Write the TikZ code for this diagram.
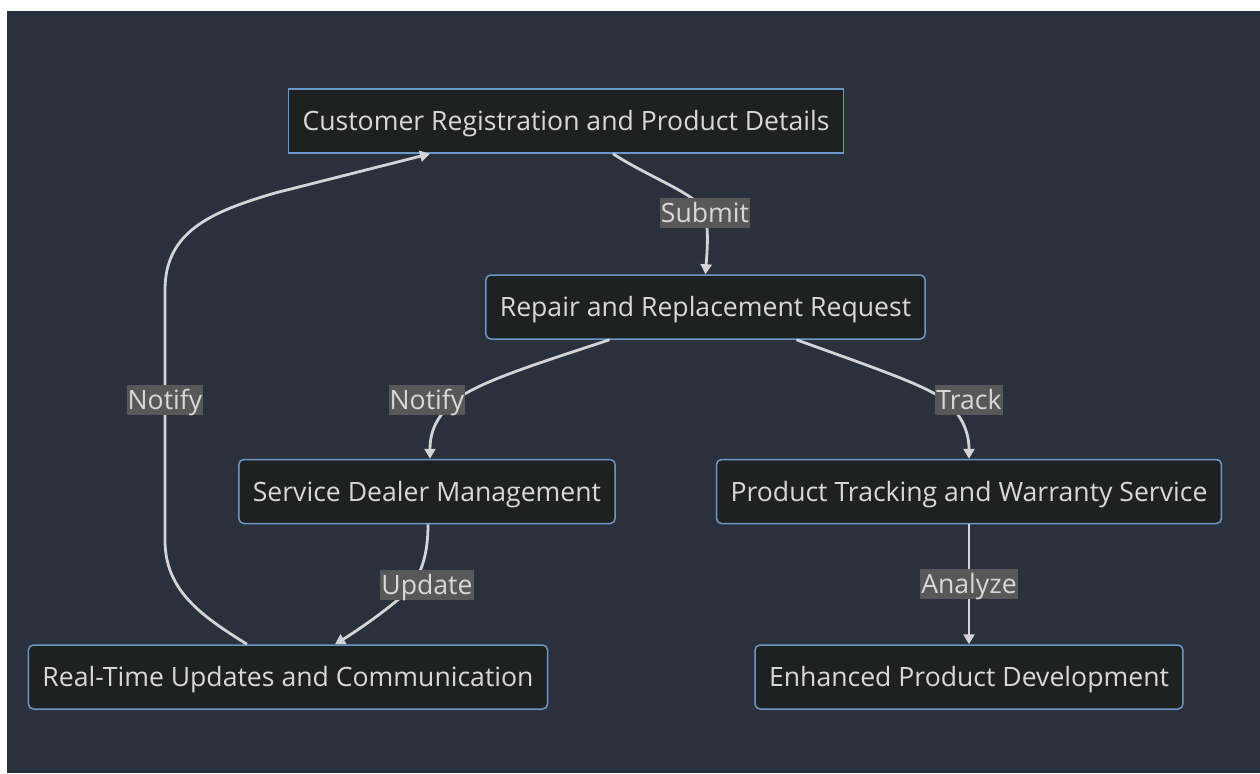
\documentclass[tikz,border=0pt]{standalone}
\usepackage{fontspec}
\setmainfont{Open Sans}
\usetikzlibrary{arrows.meta,calc}

\definecolor{canvas}{HTML}{2A303C}
\definecolor{boxfill}{HTML}{1F2020}
\definecolor{boxline}{HTML}{6A98C8}
\definecolor{wire}{HTML}{D4D4D4}
\definecolor{tagfill}{HTML}{585858}
\definecolor{ink}{HTML}{D8D8D8}

\begin{document}
\begin{tikzpicture}[
  x=0.5pt, y=-0.5pt,
  every node/.style={font=\fontsize{13.3}{16}\selectfont, text=ink, text height=10pt, text depth=0.5pt},
  stage/.style={draw=boxline, line width=0.75pt, fill=boxfill, rounded corners=2.5pt, minimum height=32pt, inner xsep=7pt},
  firststage/.style={stage, sharp corners},
  edge/.style={draw=wire, line width=1.4pt, -{Triangle[length=5pt,width=5.5pt]}},
  tag/.style={fill=tagfill, inner xsep=0.5pt, inner ysep=2.25pt},
]
% canvas
\useasboundingbox (0,0) rectangle (1260,773);
\fill[white] (0,0) rectangle (1260,773);
\fill[canvas] (7,11) rectangle (1260,773);

% stages
\node[firststage] (reg) at (566,121) {Customer Registration and Product Details};
\node[stage] (req) at (705.5,307) {Repair and Replacement Request};
\node[stage] (dealer) at (427,491.5) {Service Dealer Management};
\node[stage] (track) at (969,491.5) {Product Tracking and Warranty Service};
\node[stage] (comm) at (288,677) {Real-Time Updates and Communication};
\node[stage] (dev) at (969,677) {Enhanced Product Development};

% flows
\draw[edge] ($(reg.south)+(47,0)$) .. controls (650,178) and (700,195) .. (705,213) node[tag]{Submit}
  .. controls (709,232) and (707,252) .. (req.north);
\draw[edge] ($(req.south)+(-96,0)$) .. controls (530,366) and (475,383) .. (452,403)
  .. controls (436,418) and (430,432) .. ($(dealer.north)+(3,0)$)
  node[tag] at (427,400) {Notify};
\draw[edge] ($(req.south)+(91,0)$) .. controls (880,370) and (925,385) .. (946,401)
  .. controls (962,416) and (969,432) .. (track.north)
  node[tag] at (969,400) {Track};
\draw[edge] ($(dealer.south)+(1,0)$) .. controls (428,562) and (418,582) .. (400,598)
  .. controls (380,615) and (355,632) .. ($(comm.north)+(47,0)$)
  node[tag] at (427,585) {Update};
\draw[edge] (track.south) -- node[tag]{Analyze} (dev.north);
\draw[edge] ($(comm.north)+(-41,0)$) .. controls (200,615) and (165,590) .. (165,540)
  -- (165,400) node[tag]{Notify} -- (165,290)
  .. controls (165,232) and (210,212) .. (275,193) -- ($(reg.south)+(-136,0)$);
\end{tikzpicture}
\end{document}
